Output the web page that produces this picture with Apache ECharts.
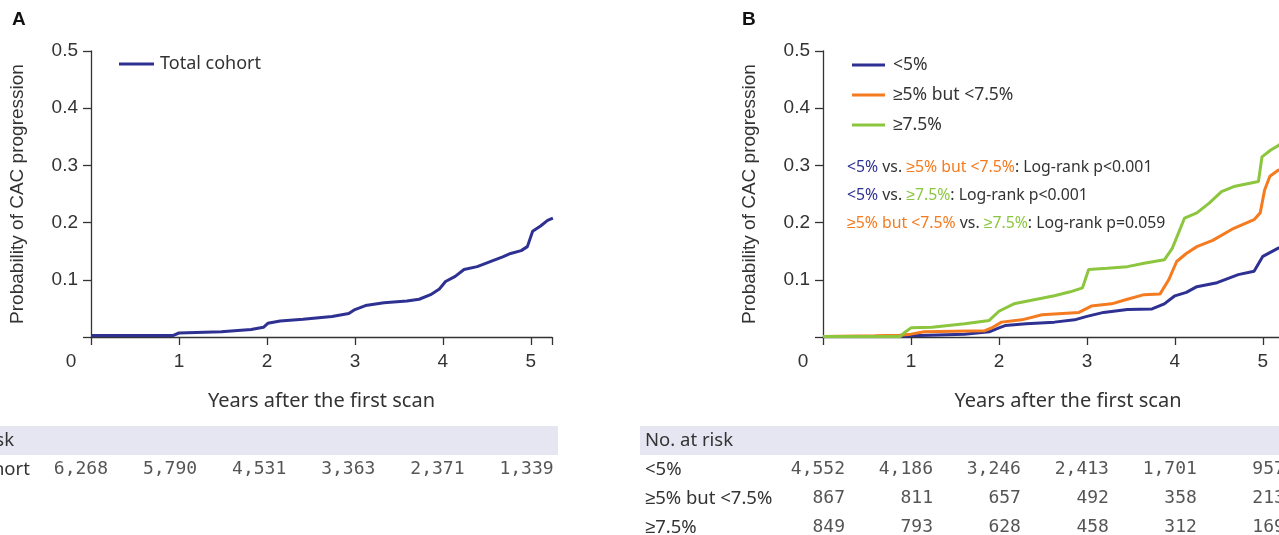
<!DOCTYPE html>
<html>
<head>
<meta charset="utf-8">
<script src="https://cdn.jsdelivr.net/npm/echarts@6/dist/echarts.min.js"></script>
<style>
  html, body { margin: 0; padding: 0; background: #fff; }
  #chart { width: 1279px; height: 535px; }
</style>
</head>
<body>
<div id="chart"></div>
<script>
// Panel A: total cohort, [years, probability]
const totalCohort = [
  [0, 0.0025], [0.93, 0.0025], [1.0, 0.007], [1.48, 0.009], [1.82, 0.013], [1.96, 0.017],
  [2.01, 0.024], [2.15, 0.028], [2.41, 0.031], [2.74, 0.036], [2.93, 0.041], [3.0, 0.048],
  [3.12, 0.055], [3.33, 0.060], [3.59, 0.063], [3.73, 0.066], [3.86, 0.074], [3.96, 0.084],
  [4.03, 0.097], [4.14, 0.106], [4.24, 0.118], [4.39, 0.123], [4.56, 0.133], [4.68, 0.140],
  [4.77, 0.146], [4.89, 0.151], [4.96, 0.158], [5.02, 0.185], [5.11, 0.194], [5.19, 0.204],
  [5.25, 0.208]
];

// Panel B: by risk group
const riskLow = [
  [0, 0.001], [0.85, 0.001], [1.0, 0.002], [1.61, 0.005], [1.89, 0.009], [2.0, 0.016],
  [2.07, 0.020], [2.31, 0.023], [2.63, 0.026], [2.86, 0.030], [3.0, 0.036], [3.19, 0.043],
  [3.46, 0.048], [3.74, 0.049], [3.88, 0.058], [4.0, 0.072], [4.13, 0.078], [4.25, 0.088],
  [4.48, 0.095], [4.72, 0.109], [4.90, 0.115], [5.0, 0.141], [5.17, 0.155], [5.25, 0.160]
];
const riskMid = [
  [0, 0.001], [0.59, 0.002], [0.87, 0.003], [1.0, 0.005], [1.15, 0.009], [1.84, 0.011],
  [1.93, 0.017], [2.03, 0.026], [2.26, 0.030], [2.49, 0.039], [2.91, 0.043], [3.05, 0.054],
  [3.28, 0.058], [3.46, 0.066], [3.65, 0.074], [3.83, 0.075], [3.93, 0.100], [4.02, 0.132],
  [4.13, 0.146], [4.25, 0.158], [4.43, 0.169], [4.67, 0.190], [4.90, 0.205], [4.97, 0.217],
  [5.02, 0.257], [5.08, 0.281], [5.17, 0.291], [5.25, 0.295]
];
const riskHigh = [
  [0, 0.001], [0.88, 0.001], [0.92, 0.007], [1.0, 0.016], [1.24, 0.017], [1.61, 0.023],
  [1.89, 0.029], [2.0, 0.045], [2.17, 0.058], [2.40, 0.065], [2.63, 0.072], [2.81, 0.079],
  [2.95, 0.086], [3.02, 0.118], [3.23, 0.120], [3.46, 0.123], [3.65, 0.129], [3.88, 0.135],
  [3.97, 0.155], [4.11, 0.208], [4.25, 0.217], [4.39, 0.234], [4.53, 0.254], [4.67, 0.263],
  [4.95, 0.272], [4.99, 0.315], [5.09, 0.327], [5.18, 0.335], [5.25, 0.345]
];

// Numbers at risk, years 0..5
const riskYears = [0, 1, 2, 3, 4, 5];
const atRiskTotal = ['6,268', '5,790', '4,531', '3,363', '2,371', '1,339'];
const atRiskLow = ['4,552', '4,186', '3,246', '2,413', '1,701', '957'];
const atRiskMid = ['867', '811', '657', '492', '358', '213'];
const atRiskHigh = ['849', '793', '628', '458', '312', '169'];
const rowsA = ['No. at risk', 'Total cohort'];
const rowsB = ['No. at risk', '<5%', '≥5% but <7.5%', '≥7.5%'];

const NAVY = '#2e3192';
const ORANGE = '#f47b20';
const GREEN = '#8cc63f';
const INK = '#333333';
const ARIAL = 'Liberation Sans, Arial, sans-serif';
const SANS = 'Noto Sans, sans-serif';
const MONO = 'DejaVu Sans Mono, monospace';

const chart = echarts.init(document.getElementById('chart'));

function plotXAxis(grid, max) {
  return {
    type: 'value', gridIndex: grid, min: 0, max: max, interval: 1,
    name: 'Years after the first scan', nameLocation: 'middle', nameGap: 54,
    nameTextStyle: { fontFamily: SANS, fontSize: 20, color: INK },
    axisLine: { lineStyle: { color: INK, width: 1.3 } },
    axisTick: { length: 8, lineStyle: { color: INK, width: 1.3 } },
    splitLine: { show: false },
    axisLabel: {
      margin: 15, fontFamily: ARIAL, fontSize: 19, color: INK,
      formatter: v => (Number.isInteger(v) ? (v === 0 ? '{z|0}' : String(v)) : ''),
      rich: { z: { fontFamily: ARIAL, fontSize: 19, color: INK, padding: [0, 40, 0, 0] } }
    }
  };
}
function plotYAxis(grid) {
  return {
    type: 'value', gridIndex: grid, min: 0, max: 0.5, interval: 0.1,
    name: 'Probability of CAC progression', nameLocation: 'middle', nameGap: 64,
    nameTextStyle: { fontFamily: ARIAL, fontSize: 19, color: INK },
    axisLine: { show: true, lineStyle: { color: INK, width: 1.3 } },
    axisTick: { show: true, length: 8, lineStyle: { color: INK, width: 1.3 } },
    splitLine: { show: false },
    axisLabel: {
      margin: 13, fontFamily: ARIAL, fontSize: 19, color: INK,
      formatter: v => (v === 0 ? '' : v.toFixed(1))
    }
  };
}
function tableXAxis(grid, max) {
  return { type: 'value', gridIndex: grid, min: 0, max: max, show: false };
}
function tableYAxis(grid, rows, margin) {
  return {
    type: 'category', gridIndex: grid, data: rows, inverse: true,
    axisLine: { show: false }, axisTick: { show: false },
    axisLabel: { margin: margin, align: 'left', fontFamily: SANS, fontSize: 18.5, color: INK }
  };
}
function curve(name, data, color, xi, yi) {
  return {
    name: name, type: 'line', xAxisIndex: xi, yAxisIndex: yi, data: data,
    showSymbol: false, symbol: 'none', lineStyle: { color: color, width: 3 },
    itemStyle: { color: color }, silent: true
  };
}
function atRisk(values, row, xi, yi) {
  return {
    type: 'scatter', xAxisIndex: xi, yAxisIndex: yi, symbolSize: 0, silent: true,
    data: riskYears.map((yr, i) => [yr, row, values[i]]),
    label: {
      show: true, position: 'inside', align: 'right', offset: [22, 0],
      formatter: p => p.data[2], fontFamily: MONO, fontSize: 18, color: '#2a2a2a'
    }
  };
}

const option = {
  backgroundColor: '#fff',
  animation: false,
  grid: [
    { left: 91, top: 51, width: 461, height: 286, outerBoundsMode: 'none' },
    { left: 823, top: 51, width: 490, height: 286, outerBoundsMode: 'none' },
    { left: 86, top: 426, width: 467, height: 58, outerBoundsMode: 'none' },
    { left: 823, top: 426, width: 490, height: 116, outerBoundsMode: 'none' }
  ],
  xAxis: [plotXAxis(0, 5.24), plotXAxis(1, 5.57), tableXAxis(2, 5.24), tableXAxis(3, 5.57)],
  yAxis: [plotYAxis(0), plotYAxis(1), tableYAxis(2, rowsA, 160), tableYAxis(3, rowsB, 178)],
  legend: [
    {
      data: ['Total cohort'], left: 114, top: 50, icon: 'rect', itemWidth: 35, itemHeight: 3,
      itemGap: 10, textStyle: { fontFamily: SANS, fontSize: 18, color: INK, padding: [0, 0, 0, 1] }
    },
    {
      data: ['<5%', '≥5% but <7.5%', '≥7.5%'], orient: 'vertical', left: 847, top: 50,
      icon: 'rect', itemWidth: 33, itemHeight: 3, itemGap: 10,
      textStyle: { fontFamily: SANS, fontSize: 17.5, color: INK, lineHeight: 20, padding: [0, 0, 0, 3] }
    }
  ],
  graphic: [
    { type: 'text', left: 12, top: 10, style: { text: 'A', font: 'bold 19px ' + ARIAL, fill: '#111' } },
    { type: 'text', left: 742, top: 10, style: { text: 'B', font: 'bold 19px ' + ARIAL, fill: '#111' } },
    { type: 'rect', z: -1, shape: { x: 0, y: 426, width: 558, height: 29 }, style: { fill: '#e6e6f2' } },
    { type: 'rect', z: -1, shape: { x: 640, y: 426, width: 640, height: 29 }, style: { fill: '#e6e6f2' } },
    {
      type: 'text', left: 847, top: 153,
      style: {
        text: '{b|<5%}{k| vs. }{o|≥5% but <7.5%}{k|: Log-rank p<0.001}\n' +
              '{b|<5%}{k| vs. }{g|≥7.5%}{k|: Log-rank p<0.001}\n' +
              '{o|≥5% but <7.5%}{k| vs. }{g|≥7.5%}{k|: Log-rank p=0.059}',
        font: '15.8px ' + SANS, lineHeight: 28,
        rich: {
          b: { fill: NAVY, fontFamily: SANS, fontSize: 15.8, lineHeight: 28 },
          o: { fill: ORANGE, fontFamily: SANS, fontSize: 15.8, lineHeight: 28 },
          g: { fill: GREEN, fontFamily: SANS, fontSize: 15.8, lineHeight: 28 },
          k: { fill: INK, fontFamily: SANS, fontSize: 15.8, lineHeight: 28 }
        }
      }
    }
  ],
  series: [
    curve('Total cohort', totalCohort, NAVY, 0, 0),
    curve('<5%', riskLow, NAVY, 1, 1),
    curve('≥5% but <7.5%', riskMid, ORANGE, 1, 1),
    curve('≥7.5%', riskHigh, GREEN, 1, 1),
    atRisk(atRiskTotal, 'Total cohort', 2, 2),
    atRisk(atRiskLow, '<5%', 3, 3),
    atRisk(atRiskMid, '≥5% but <7.5%', 3, 3),
    atRisk(atRiskHigh, '≥7.5%', 3, 3)
  ]
};

chart.setOption(option);
</script>
</body>
</html>
